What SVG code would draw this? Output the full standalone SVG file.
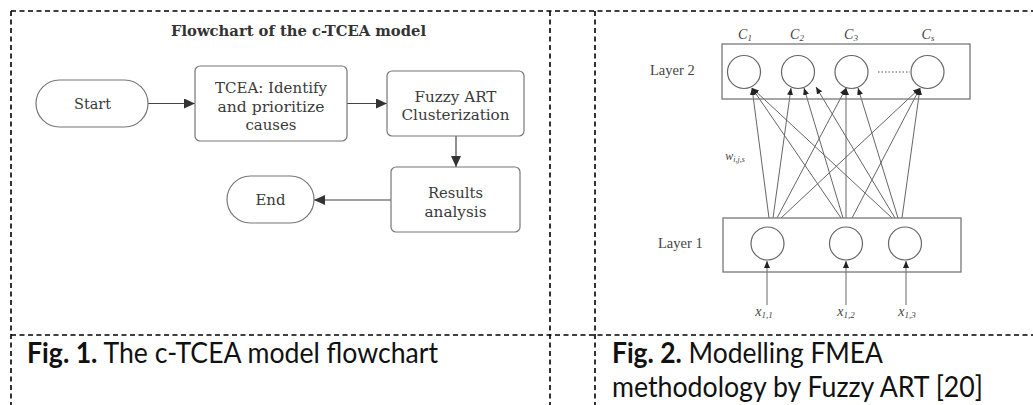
<svg xmlns="http://www.w3.org/2000/svg" width="1033" height="405" viewBox="0 0 1033 405">
<style>
.bd{stroke:#000;stroke-width:1.6;stroke-dasharray:5 3.5;fill:none}
.fb{fill:#fff;stroke:#777;stroke-width:1.2}
.ft{font-family:"DejaVu Serif","Liberation Serif",serif;font-size:15px;fill:#3a3a3a;text-anchor:middle}
.fc{stroke:#444;stroke-width:1.2;fill:none}
.nb{fill:none;stroke:#777;stroke-width:1.3}
.nc{fill:none;stroke:#666;stroke-width:1.2}
.nl{stroke:#666;stroke-width:1;fill:none}
.nt{font-family:"Liberation Serif",serif;font-size:14.5px;fill:#444}
.ni{font-family:"Liberation Serif",serif;font-style:italic;fill:#444;text-anchor:middle}
.cap{font-family:Lato,"Open Sans",sans-serif;font-size:28px;fill:#111}
</style>
<defs>
<marker id="fa" markerWidth="11" markerHeight="10" refX="11" refY="5" orient="auto" markerUnits="userSpaceOnUse"><path d="M0,0 L11,5 L0,10 z" fill="#333"/></marker>
<marker id="na" markerWidth="7" markerHeight="6" refX="7" refY="3" orient="auto" markerUnits="userSpaceOnUse"><path d="M0,0 L7,3 L0,6 z" fill="#222"/></marker>
</defs>
<g id="table">
<line class="bd" x1="11" y1="11" x2="1033" y2="11"/>
<line class="bd" x1="11" y1="335" x2="1033" y2="335"/>
<line class="bd" x1="11" y1="11" x2="11" y2="405"/>
<line class="bd" x1="550" y1="11" x2="550" y2="405"/>
<line class="bd" x1="595" y1="11" x2="595" y2="405"/>
</g>
<text id="title" x="298.5" y="36" font-family="DejaVu Serif,Liberation Serif,serif" font-weight="bold" font-size="14" fill="#333" text-anchor="middle" textLength="255" lengthAdjust="spacingAndGlyphs">Flowchart of the c-TCEA model</text>
<g id="connectors">
<line class="fc" x1="148" y1="103.5" x2="195" y2="103.5" marker-end="url(#fa)"/>
<line class="fc" x1="347" y1="103.5" x2="387" y2="103.5" marker-end="url(#fa)"/>
<line class="fc" x1="456" y1="136" x2="456" y2="167" marker-end="url(#fa)"/>
<line class="fc" x1="391" y1="200" x2="314" y2="200" marker-end="url(#fa)"/>
</g>
<g id="start">
<rect class="fb" x="36" y="80" width="112" height="47" rx="23.5"/>
<text class="ft" x="92.5" y="109" textLength="37" lengthAdjust="spacingAndGlyphs">Start</text>
</g>
<g id="tcea">
<rect class="fb" x="195" y="66" width="152" height="75" rx="5"/>
<text class="ft" x="271" y="92.5" textLength="112" lengthAdjust="spacingAndGlyphs">TCEA: Identify</text>
<text class="ft" x="271" y="111.5" textLength="107" lengthAdjust="spacingAndGlyphs">and prioritize</text>
<text class="ft" x="271" y="130" textLength="51" lengthAdjust="spacingAndGlyphs">causes</text>
</g>
<g id="fuzzy">
<rect class="fb" x="387" y="71" width="137" height="65" rx="5"/>
<text class="ft" x="455.5" y="102" textLength="82" lengthAdjust="spacingAndGlyphs">Fuzzy ART</text>
<text class="ft" x="455.5" y="120" textLength="108" lengthAdjust="spacingAndGlyphs">Clusterization</text>
</g>
<g id="results">
<rect class="fb" x="391" y="167" width="129" height="65" rx="5"/>
<text class="ft" x="455.5" y="198" textLength="55" lengthAdjust="spacingAndGlyphs">Results</text>
<text class="ft" x="455.5" y="217" textLength="62" lengthAdjust="spacingAndGlyphs">analysis</text>
</g>
<g id="end">
<rect class="fb" x="227" y="176" width="87" height="47" rx="23.5"/>
<text class="ft" x="270.5" y="205" textLength="30" lengthAdjust="spacingAndGlyphs">End</text>
</g>
<g id="network-links">
<line class="nl" x1="769" y1="218" x2="752" y2="88" marker-end="url(#na)"/>
<line class="nl" x1="773" y1="218" x2="791" y2="88" marker-end="url(#na)"/>
<line class="nl" x1="777" y1="218" x2="846" y2="88" marker-end="url(#na)"/>
<line class="nl" x1="781" y1="218" x2="920" y2="88" marker-end="url(#na)"/>
<line class="nl" x1="841" y1="218" x2="752" y2="88" marker-end="url(#na)"/>
<line class="nl" x1="843" y1="218" x2="804" y2="88" marker-end="url(#na)"/>
<line class="nl" x1="846" y1="218" x2="846" y2="88" marker-end="url(#na)"/>
<line class="nl" x1="852" y1="218" x2="920" y2="88" marker-end="url(#na)"/>
<line class="nl" x1="892" y1="218" x2="752" y2="88" marker-end="url(#na)"/>
<line class="nl" x1="895" y1="218" x2="816" y2="87" marker-end="url(#na)"/>
<line class="nl" x1="898" y1="218" x2="858" y2="88" marker-end="url(#na)"/>
<line class="nl" x1="902" y1="218" x2="920" y2="88" marker-end="url(#na)"/>
<line class="nl" x1="767" y1="305" x2="767" y2="261" marker-end="url(#na)"/>
<line class="nl" x1="846" y1="305" x2="846" y2="261" marker-end="url(#na)"/>
<line class="nl" x1="906" y1="305" x2="906" y2="261" marker-end="url(#na)"/>
</g>
<g id="layer2">
<rect class="nb" x="722" y="44" width="248" height="55"/>
<circle class="nc" cx="744" cy="72" r="16.5"/>
<circle class="nc" cx="798" cy="72" r="16.5"/>
<circle class="nc" cx="851.5" cy="72" r="16.5"/>
<circle class="nc" cx="927.5" cy="72" r="16.5"/>
<line x1="878" y1="72" x2="910" y2="72" stroke="#555" stroke-width="1.2" stroke-dasharray="1.5 2"/>
<text class="nt" x="650" y="75">Layer 2</text>
<text class="ni" x="745" y="39" font-size="14">C<tspan font-size="9" dy="2">1</tspan></text>
<text class="ni" x="797" y="39" font-size="14">C<tspan font-size="9" dy="2">2</tspan></text>
<text class="ni" x="851" y="39" font-size="14">C<tspan font-size="9" dy="2">3</tspan></text>
<text class="ni" x="928" y="39" font-size="14">C<tspan font-size="9" dy="2">s</tspan></text>
</g>
<g id="layer1">
<rect class="nb" x="723" y="218" width="238" height="54"/>
<circle class="nc" cx="767.5" cy="243.5" r="16.5"/>
<circle class="nc" cx="846" cy="243.5" r="16.5"/>
<circle class="nc" cx="905" cy="243.5" r="16.5"/>
<text class="nt" x="658" y="248">Layer 1</text>
</g>
<g id="labels">
<text class="ni" x="764" y="316" font-size="14">x<tspan font-size="9" dy="2">1,1</tspan></text>
<text class="ni" x="846" y="316" font-size="14">x<tspan font-size="9" dy="2">1,2</tspan></text>
<text class="ni" x="907" y="316" font-size="14">x<tspan font-size="9" dy="2">1,3</tspan></text>
<text class="ni" x="735" y="160" font-size="12">w<tspan font-size="8" dy="2">i,j,s</tspan></text>
</g>
<g id="captions">
<text class="cap" x="27" y="363" textLength="411" lengthAdjust="spacingAndGlyphs"><tspan font-weight="bold">Fig. 1.</tspan> The c-TCEA model flowchart</text>
<text class="cap" x="612" y="363" textLength="271" lengthAdjust="spacingAndGlyphs"><tspan font-weight="bold">Fig. 2.</tspan> Modelling FMEA</text>
<text class="cap" x="612" y="397" textLength="371" lengthAdjust="spacingAndGlyphs">methodology by Fuzzy ART [20]</text>
</g>
</svg>
